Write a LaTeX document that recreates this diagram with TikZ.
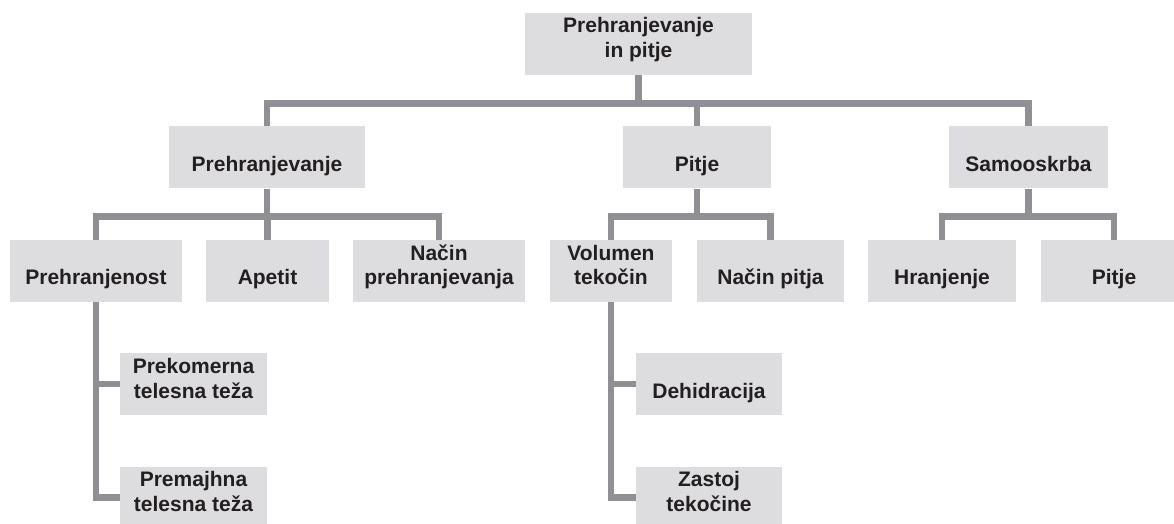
\documentclass[tikz,border=0pt]{standalone}
\usepackage{fontspec}
\setmainfont{Liberation Sans}
\usepackage{xcolor}
\usepackage{tikz}
\definecolor{boxgray}{RGB}{221,221,223}
\definecolor{linegray}{RGB}{143,143,148}
\definecolor{textblack}{RGB}{35,31,32}

\begin{document}
\begin{tikzpicture}[x=0.5pt, y=-0.5pt, main/.style = {fill=boxgray, text=textblack, font=\fontsize{10.5}{12.5}\selectfont\bfseries, align=center, inner sep=0pt, text height=22.5pt, text depth=8.5pt}, link/.style = {draw=linegray, line width=3.3pt, line join=miter}]
        \useasboundingbox (0,0) rectangle (1174,524);
        \node [main, minimum width=113.5pt] (0) at (638.5, 44) {Prehranjevanje\\in pitje};
        \node [main, minimum width=98pt] (1) at (267, 157.5) {Prehranjevanje};
        \node [main, minimum width=74pt] (2) at (697, 157.5) {Pitje};
        \node [main, minimum width=79.5pt] (3) at (1028.5, 157.5) {Samooskrba};
        \node [main, minimum width=86pt] (4) at (96, 271) {Prehranjenost};
        \node [main, minimum width=61.5pt] (5) at (267.5, 271) {Apetit};
        \node [main, minimum width=86pt] (6) at (439, 271) {Način\\prehranjevanja};
        \node [main, minimum width=61pt] (7) at (611, 271) {Volumen\\tekočin};
        \node [main, minimum width=73.5pt] (8) at (770.5, 271) {Način pitja};
        \node [main, minimum width=74pt] (9) at (942, 271) {Hranjenje};
        \node [main, minimum width=73pt] (10) at (1114, 271) {Pitje};
        \node [main, minimum width=73.5pt] (11) at (193.5, 384) {Prekomerna\\telesna teža};
        \node [main, minimum width=73.5pt] (12) at (193.5, 497.5) {Premajhna\\telesna teža};
        \node [main, minimum width=73pt] (13) at (709, 384) {Dehidracija};
        \node [main, minimum width=73pt] (14) at (709, 497.5) {Zastoj\\tekočine};
        \draw [link] (0.south) -- ++(0,28) -| (1.north);
        \draw [link] (0.south) -- ++(0,28) -| (2.north);
        \draw [link] (0.south) -- ++(0,28) -| (3.north);
        \draw [link] (1.south) -- ++(0,27.5) -| (4.north);
        \draw [link] (1.south) -- ++(0,27.5) -| (5.north);
        \draw [link] (1.south) -- ++(0,27.5) -| (6.north);
        \draw [link] (2.south) -- ++(0,27.5) -| (7.north);
        \draw [link] (2.south) -- ++(0,27.5) -| (8.north);
        \draw [link] (3.south) -- ++(0,27.5) -| (9.north);
        \draw [link] (3.south) -- ++(0,27.5) -| (10.north);
        \draw [link] (4.south) |- (11.west);
        \draw [link] (4.south) |- (12.west);
        \draw [link] (7.south) |- (13.west);
        \draw [link] (7.south) |- (14.west);
\end{tikzpicture}
\end{document}
